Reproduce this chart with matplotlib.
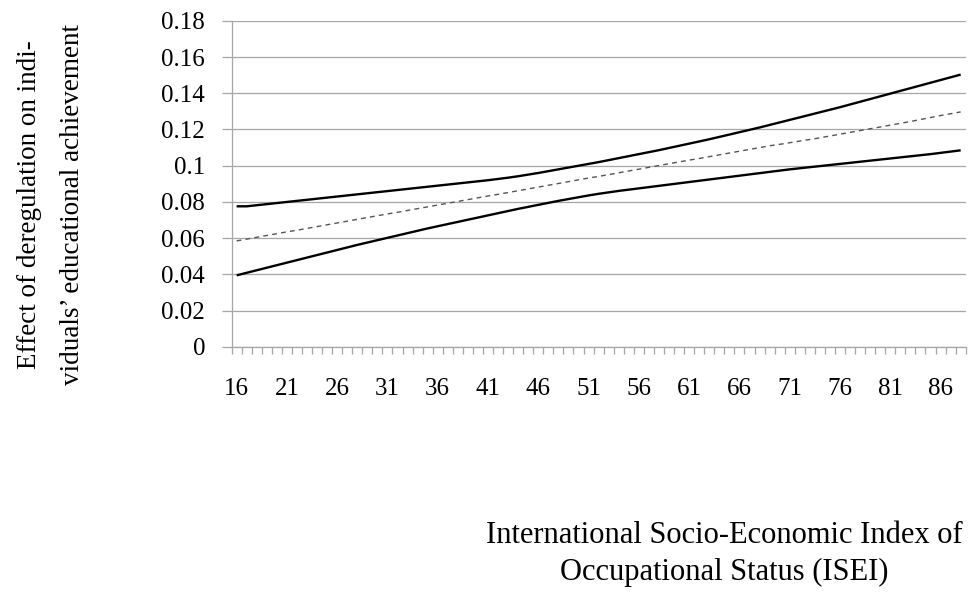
#plots the effect of deregulation across ISEI values, with upper and lower bounds
import matplotlib
matplotlib.use('Agg')
import matplotlib.pyplot as plt
from matplotlib.ticker import FixedLocator

plt.rcParams['font.family'] = ['Liberation Serif', 'DejaVu Serif']

#ISEI categories 16..88
isei = list(range(16, 89))

upper = [0.0776, 0.0776, 0.0782, 0.0788, 0.0794, 0.0800, 0.0806, 0.0812, 0.0818, 0.0824,
         0.0830, 0.0836, 0.0842, 0.0848, 0.0854, 0.0860, 0.0866, 0.0872, 0.0878, 0.0884,
         0.0890, 0.0896, 0.0902, 0.0908, 0.0914, 0.0920, 0.0927, 0.0934, 0.0942, 0.0951,
         0.0960, 0.0970, 0.0980, 0.0990, 0.1000, 0.1010, 0.1020, 0.1031, 0.1042, 0.1053,
         0.1064, 0.1075, 0.1086, 0.1098, 0.1110, 0.1122, 0.1134, 0.1146, 0.1159, 0.1172,
         0.1185, 0.1198, 0.1211, 0.1225, 0.1239, 0.1253, 0.1267, 0.1281, 0.1295, 0.1309,
         0.1323, 0.1338, 0.1353, 0.1368, 0.1383, 0.1398, 0.1413, 0.1428, 0.1443, 0.1458,
         0.1473, 0.1488, 0.1503]

effect = [0.0585, 0.0595, 0.0605, 0.0615, 0.0625, 0.0635, 0.0644, 0.0654, 0.0664, 0.0674,
          0.0684, 0.0694, 0.0704, 0.0714, 0.0724, 0.0734, 0.0743, 0.0753, 0.0763, 0.0773,
          0.0783, 0.0793, 0.0803, 0.0813, 0.0823, 0.0833, 0.0842, 0.0852, 0.0862, 0.0872,
          0.0882, 0.0892, 0.0902, 0.0912, 0.0922, 0.0932, 0.0941, 0.0951, 0.0961, 0.0971,
          0.0981, 0.0991, 0.1001, 0.1011, 0.1021, 0.1031, 0.1040, 0.1050, 0.1060, 0.1070,
          0.1080, 0.1090, 0.1100, 0.1110, 0.1118, 0.1127, 0.1136, 0.1145, 0.1154, 0.1164,
          0.1174, 0.1184, 0.1194, 0.1204, 0.1214, 0.1224, 0.1234, 0.1244, 0.1255, 0.1266,
          0.1277, 0.1287, 0.1297]

lower = [0.0395, 0.0409, 0.0423, 0.0437, 0.0451, 0.0465, 0.0479, 0.0493, 0.0507, 0.0521,
         0.0535, 0.0549, 0.0563, 0.0576, 0.0589, 0.0602, 0.0615, 0.0628, 0.0641, 0.0654,
         0.0666, 0.0678, 0.0690, 0.0702, 0.0714, 0.0726, 0.0738, 0.0750, 0.0762, 0.0773,
         0.0784, 0.0795, 0.0806, 0.0816, 0.0826, 0.0836, 0.0845, 0.0853, 0.0861, 0.0868,
         0.0875, 0.0882, 0.0889, 0.0896, 0.0903, 0.0910, 0.0917, 0.0924, 0.0931, 0.0938,
         0.0945, 0.0952, 0.0959, 0.0966, 0.0973, 0.0980, 0.0986, 0.0992, 0.0998, 0.1004,
         0.1010, 0.1016, 0.1022, 0.1028, 0.1034, 0.1040, 0.1046, 0.1052, 0.1058, 0.1064,
         0.1071, 0.1078, 0.1085]

yticks = [0, 0.02, 0.04, 0.06, 0.08, 0.1, 0.12, 0.14, 0.16, 0.18]
ytick_labels = ['0', '0.02', '0.04', '0.06', '0.08', '0.1', '0.12', '0.14', '0.16', '0.18']
xtick_labels = list(range(16, 89, 5))


def plot_effect():
  fig = plt.figure(figsize=(9.73, 5.94), dpi=100)
  ax = fig.add_axes([0.238, 0.416, 0.7545, 0.549])

  ax.plot(isei, upper, color='black', lw=1.7, solid_capstyle='butt')
  ax.plot(isei, lower, color='black', lw=1.7, solid_capstyle='butt')
  ax.plot(isei, effect, color='#555555', lw=1.0, dashes=(3.5, 3))

  ax.set_ylim(0, 0.18)
  ax.set_xlim(15.5, 88.5)

  #horizontal grid only, gray axis lines
  ax.set_yticks(yticks)
  ax.set_yticklabels(ytick_labels, fontsize=18)
  ax.yaxis.grid(True, color='#a6a6a6', lw=0.9)
  ax.set_axisbelow(True)
  for s in ['top', 'right']:
    ax.spines[s].set_visible(False)
  for s in ['left', 'bottom']:
    ax.spines[s].set_color('#a6a6a6')
    ax.spines[s].set_linewidth(0.9)
  ax.tick_params(axis='y', length=7, width=0.9, color='#a6a6a6', pad=12)

  #category ticks between points, labels every 5th category
  ax.set_xticks(xtick_labels)
  ax.set_xticklabels([str(v) for v in xtick_labels], fontsize=18)
  ax.xaxis.set_minor_locator(FixedLocator([v - 0.5 for v in range(16, 90)]))
  ax.tick_params(axis='x', which='major', length=0, pad=22.5)
  ax.tick_params(axis='x', which='minor', length=5, width=0.9, color='#a6a6a6')

  fig.text(0.030, 0.655, 'Effect of deregulation on indi-', rotation=90,
           fontsize=19.5, ha='center', va='center')
  fig.text(0.074, 0.655, 'viduals\u2019 educational achievement', rotation=90,
           fontsize=19.5, ha='center', va='center')

  fig.text(0.744, 0.099, 'International Socio-Economic Index of', fontsize=22,
           ha='center', va='center')
  fig.text(0.744, 0.037, 'Occupational Status (ISEI)', fontsize=22,
           ha='center', va='center')

  fig.savefig('out.png', dpi=100)
  return

plot_effect()
